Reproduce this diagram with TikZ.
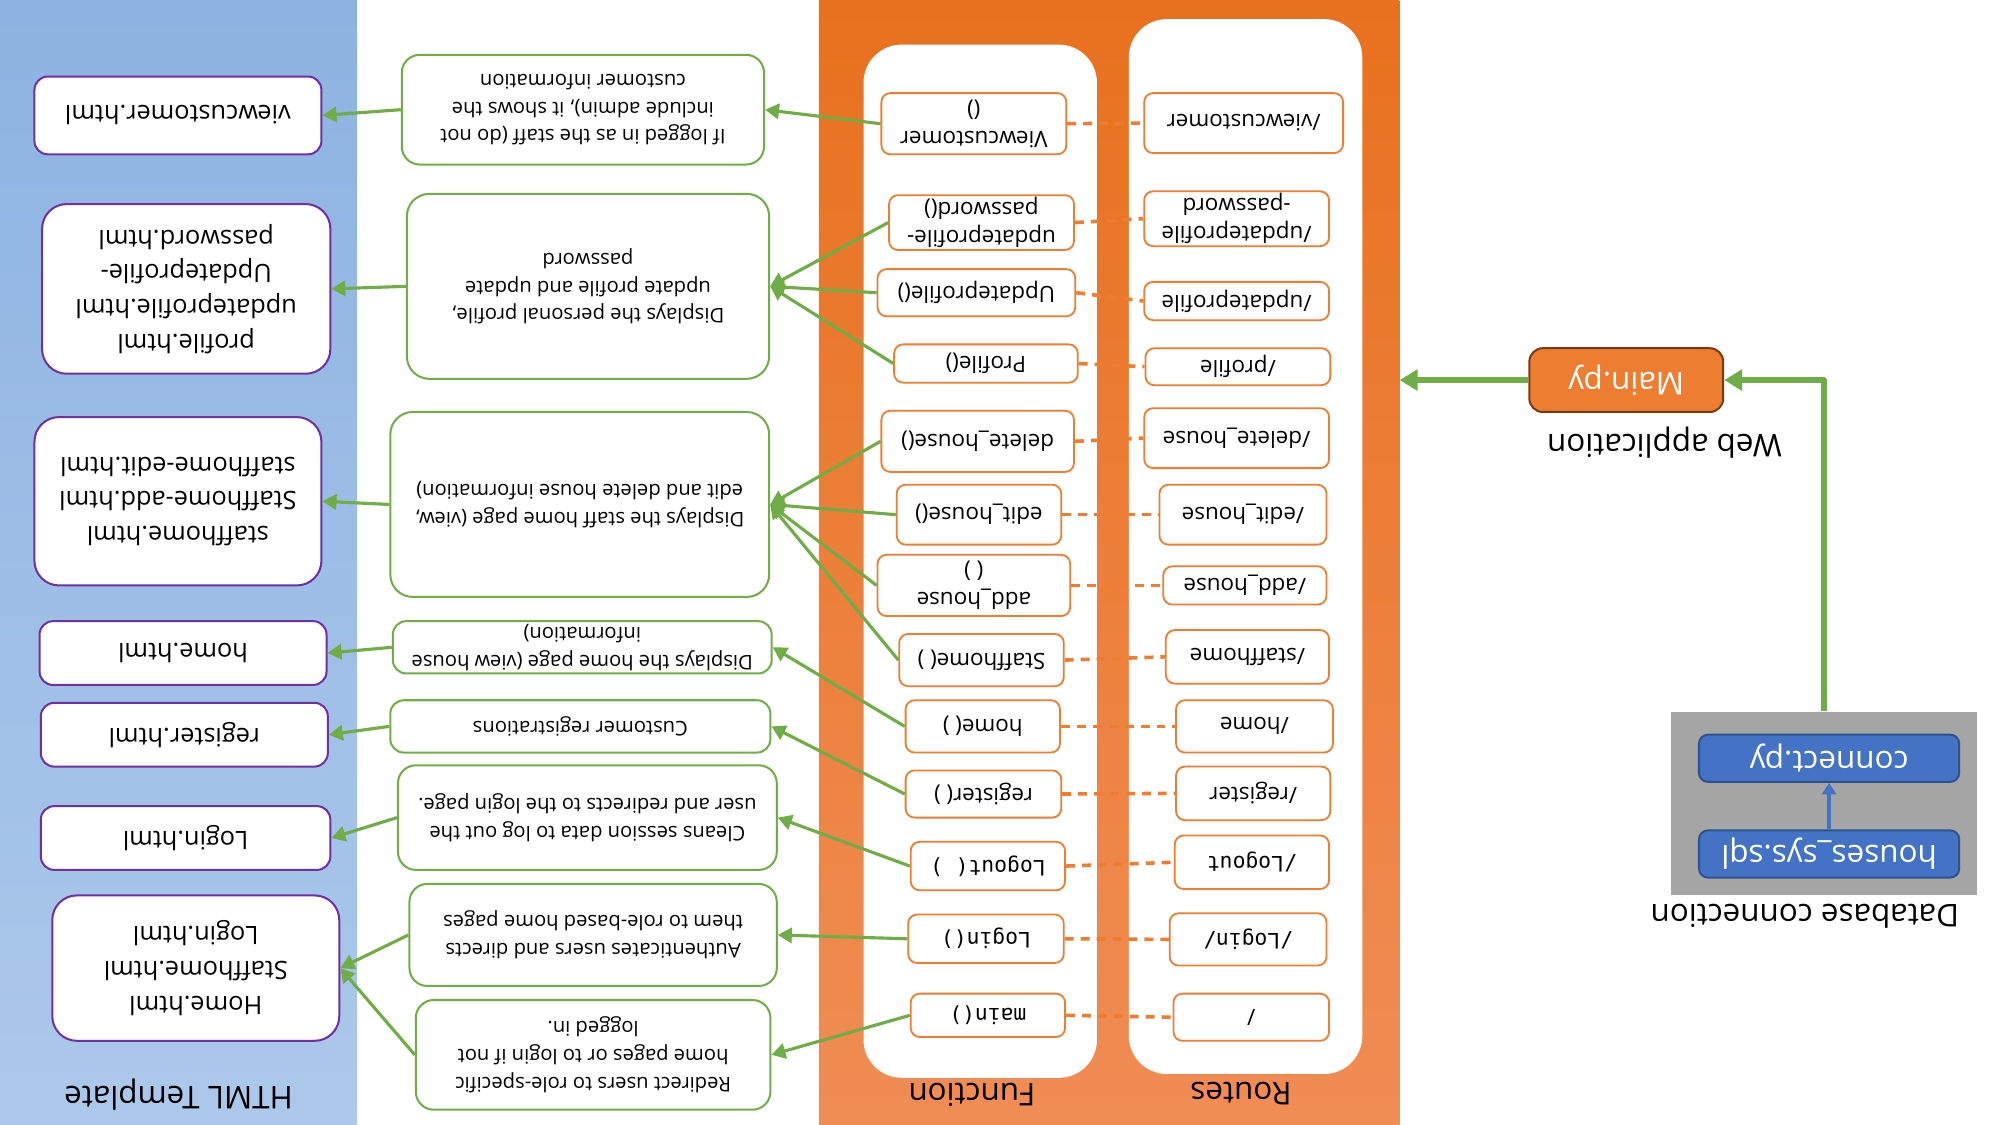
\documentclass[tikz,border=0pt]{standalone}
\usepackage{fontspec}
\setmainfont{Open Sans}
\setmonofont{DejaVu Sans Mono}
\usetikzlibrary{arrows.meta}
\definecolor{grn}{HTML}{70AD47}
\definecolor{prp}{HTML}{7030A0}
\definecolor{org}{HTML}{ED7D31}
\definecolor{orgdark}{HTML}{7A3A10}
\definecolor{blu}{HTML}{4472C4}
\definecolor{bludark}{HTML}{2F528F}
\definecolor{tpltop}{RGB}{141,179,226}
\definecolor{tplbot}{RGB}{172,200,234}
\definecolor{apptop}{RGB}{232,113,30}
\definecolor{appbot}{RGB}{240,141,85}
\definecolor{dbgrey}{RGB}{165,165,165}
\tikzset{
  flip/.style={rotate=180},
  sz/.style 2 args={minimum width=#1*0.2mm, minimum height=#2*0.2mm},
  html/.style={flip, draw=prp, line width=0.9pt, fill=white, rounded corners=6pt, inner sep=0pt, align=center, font=\fontsize{11.3}{15.5}\selectfont},
  desc/.style={flip, draw=grn, line width=0.9pt, fill=white, rounded corners=6pt, inner sep=0pt, align=center, font=\fontsize{9}{12.3}\selectfont},
  fn/.style={flip, draw=org, line width=0.8pt, fill=white, rounded corners=4pt, inner sep=0pt, align=center, font=\fontsize{10}{12.5}\selectfont},
  mono/.style={font=\fontsize{9.5}{12}\ttfamily},
  lbl/.style={flip, font=\fontsize{14}{16}\selectfont},
  col/.style={fill=white, rounded corners=17pt, inner sep=0pt},
  link/.style={grn, line width=1.4pt, -{Triangle[length=2.2mm,width=2.4mm]}},
  biglink/.style={grn, line width=2.4pt, -{Triangle[length=2.8mm,width=3.2mm]}},
  pair/.style={org, line width=1.6pt, dash pattern=on 1.4mm off 1.1mm},
  every picture/.style={line join=round}
}
\begin{document}
\begin{tikzpicture}[x=0.2mm, y=-0.2mm]
  \useasboundingbox (0,0) rectangle (1568,882);
  \node[sz={280}{882}, inner sep=0pt, top color=tpltop, bottom color=tplbot] (tpl) at (140,441) {};
  \node[sz={455}{882}, inner sep=0pt, top color=apptop, bottom color=appbot] (app) at (869.5,441) {};
  \node[col, sz={183}{810}] (fcol) at (768.5,440) {};
  \node[col, sz={183}{827}] (rcol) at (976.5,428.5) {};

  \node[html, sz={225}{61}] (p1) at (139.5,90.5) {viewcustomer.html};
  \node[html, sz={226}{133}, rounded corners=11pt] (p2) at (146,226.5) {profile.html\\updateprofile.html\\Updateprofile-\\password.html};
  \node[html, sz={225}{132}, rounded corners=11pt] (p3) at (139.5,393) {staffhome.html\\Staffhome-add.html\\staffhome-edit.html};
  \node[html, sz={225}{50}] (p4) at (143.5,512) {home.html};
  \node[html, sz={225}{50}] (p5) at (144.5,576) {register.html};
  \node[html, sz={227}{50}] (p6) at (145.5,657) {Login.html};
  \node[html, sz={225}{114}, rounded corners=11pt] (p7) at (153.5,759) {Home.html\\Staffhome.html\\Login.html};

  \node[desc, sz={284}{86}, rounded corners=8pt] (d1) at (457,86) {If logged in as the staff (do not\\include admin), it shows the\\customer information};
  \node[desc, sz={284}{145}, rounded corners=10pt] (d2) at (461,224.5) {Displays the personal profile,\\update profile and update\\password};
  \node[desc, sz={297}{145}, rounded corners=10pt] (d3) at (454.5,395.5) {Displays the staff home page (view,\\edit and delete house information)};
  \node[desc, sz={297}{41}] (d4) at (456.5,507.5) {Displays the home page (view house\\information)};
  \node[desc, sz={298}{41}] (d5) at (455,569.5) {Customer registrations};
  \node[desc, sz={297}{82}, rounded corners=8pt] (d6) at (460.5,641) {Cleans session data to log out the\\user and redirects to the login page.};
  \node[desc, sz={288}{80}, rounded corners=8pt] (d7) at (465,733) {Authenticates users and directs\\them to role-based home pages};
  \node[desc, sz={278}{86}, rounded corners=8pt] (d8) at (465,827) {Redirect users to role-specific\\home pages or to login if not\\logged in.};

  \node[fn, sz={145}{48}] (f1) at (763.5,97) {Viewcustomer\\()};
  \node[fn, sz={145}{43}] (f2) at (769.5,174.5) {updateprofile-\\password()};
  \node[fn, sz={155}{37}] (f3) at (765.5,229.5) {Updateprofile()};
  \node[fn, sz={144}{30}] (f4) at (773,285) {Profile()};
  \node[fn, sz={151}{48}] (f5) at (766.5,346) {delete\_house()};
  \node[fn, sz={129}{47}] (f6) at (767.5,403.5) {edit\_house()};
  \node[fn, sz={151}{48}] (f7) at (763.5,459) {add\_house\\( )};
  \node[fn, sz={129}{41}] (f8) at (769.5,517.5) {Staffhome( )};
  \node[fn, sz={121}{41}] (f9) at (770.5,569.5) {home( )};
  \node[fn, sz={122}{37}] (f10) at (771,622.5) {register( )};
  \node[fn, mono, sz={121}{38}] (f11) at (774.5,679) {Logout( )};
  \node[fn, mono, sz={122}{38}] (f12) at (773,736) {Login()};
  \node[fn, mono, sz={121}{34}] (f13) at (774.5,796) {main()};

  \node[fn, sz={156}{47}] (r1) at (975,96.5) {/viewcustomer};
  \node[fn, sz={145}{43}] (r2) at (969.5,171.5) {/updateprofile\\-password};
  \node[fn, sz={145}{30}] (r3) at (969.5,236) {/updateprofile};
  \node[fn, sz={145}{29}] (r4) at (970.5,287.5) {/profile};
  \node[fn, sz={145}{47}] (r5) at (969.5,343.5) {/delete\_house};
  \node[fn, sz={131}{47}] (r6) at (974.5,403.5) {/edit\_house};
  \node[fn, sz={128}{30}] (r7) at (976,459) {/add\_house};
  \node[fn, sz={128}{42}] (r8) at (978,515) {/staffhome};
  \node[fn, sz={123}{41}] (r9) at (983.5,569.5) {/home};
  \node[fn, sz={121}{42}] (r10) at (982.5,622) {/register};
  \node[fn, mono, sz={121}{42}] (r11) at (981.5,676) {/Logout};
  \node[fn, mono, sz={123}{41}] (r12) at (978.5,736.5) {/Login/};
  \node[fn, sz={122}{37}] (r13) at (981,797.5) {/};

  \node[lbl] (tpllbl) at (140,858) {HTML Template};
  \node[lbl] (fnlbl) at (762,858) {Function};
  \node[lbl] (rtlbl) at (973,857) {Routes};

  \node[flip, sz={152}{50}, fill=org, draw=orgdark, line width=0.9pt, rounded corners=6pt, text=white, font=\fontsize{14}{16}\selectfont] (mainpy) at (1275,298) {Main.py};
  \node[lbl] (weblbl) at (1305,347) {Web application};
  \node[sz={240}{144}, inner sep=0pt, fill=dbgrey] (db) at (1430,630) {};
  \node[flip, sz={204}{37}, fill=blu, draw=bludark, line width=0.9pt, rounded corners=4pt, text=white, font=\fontsize{14}{16}\selectfont] (conn) at (1434,594.5) {connect.py};
  \node[flip, sz={204}{37}, fill=blu, draw=bludark, line width=0.9pt, rounded corners=4pt, text=white, font=\fontsize{14}{16}\selectfont] (sql) at (1434,669.5) {houses\_sys.sql};
  \node[lbl] (dblbl) at (1415,718) {Database connection};

  \foreach \i in {1,...,13} \draw[pair] (f\i.west) -- (r\i.east);
  \draw[link] (f1.east) -- (d1.west);
  \foreach \i in {2,3,4} \draw[link] (f\i.east) -- (d2.west);
  \foreach \i in {5,6,7,8} \draw[link] (f\i.east) -- (d3.west);
  \draw[link] (f9.east) -- (d4.west);
  \draw[link] (f10.east) -- (d5.west);
  \draw[link] (f11.east) -- (d6.west);
  \draw[link] (f12.east) -- (d7.west);
  \draw[link] (f13.east) -- (d8.west);
  \foreach \i in {1,...,6} \draw[link] (d\i.east) -- (p\i.west);
  \draw[link] (d7.east) -- (p7.west);
  \draw[link] (d8.east) -- (p7.west);

  \draw[blu, line width=1.6pt, -{Triangle[length=1.8mm,width=2.2mm]}] (sql.south) -- (conn.north);
  \draw[biglink] (db.north) |- (mainpy.west);
  \draw[biglink] (mainpy.east) -- (mainpy.east -| app.east);
\end{tikzpicture}
\end{document}
